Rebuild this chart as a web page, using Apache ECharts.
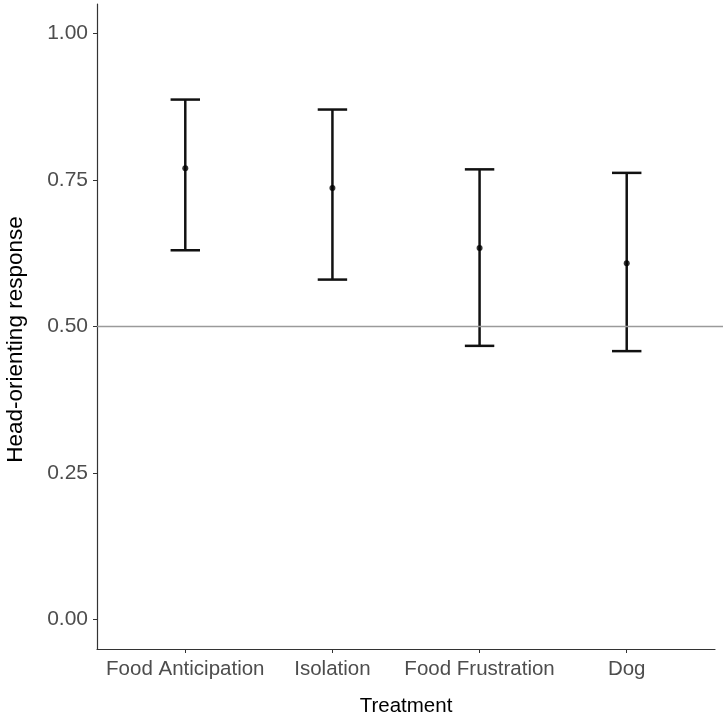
<!DOCTYPE html>
<html>
<head>
<meta charset="utf-8">
<script src="https://cdn.jsdelivr.net/npm/echarts@6/dist/echarts.min.js"></script>
<style>
html,body{margin:0;padding:0;background:#fff;}
#chart{width:728px;height:718px;}
</style>
</head>
<body>
<div id="chart"></div>
<script>
var categories = ['Food Anticipation', 'Isolation', 'Food Frustration', 'Dog'];
var meanValues = [0.770, 0.736, 0.634, 0.608];
var lowerValues = [0.630, 0.580, 0.467, 0.458];
var upperValues = [0.887, 0.870, 0.768, 0.762];
var yTicks = [0, 0.25, 0.5, 0.75, 1];
var refLine = 0.5;

var positions = categories.map(function (c, i) { return i + 1; });
var barData = positions.map(function (p, i) { return [p, lowerValues[i], upperValues[i]]; });
var pointData = positions.map(function (p, i) { return [p, meanValues[i]]; });

var chart = echarts.init(document.getElementById('chart'), null, {renderer: 'canvas'});
var font = 'Liberation Sans, Arial, sans-serif';

chart.setOption({
  animation: false,
  backgroundColor: '#fff',
  grid: [
    {left: 97, right: 13, top: 4, bottom: 69, containLabel: false, outerBoundsMode: 'none'},
    {left: 97, right: 5, top: 4, bottom: 69, containLabel: false, outerBoundsMode: 'none'}
  ],
  xAxis: [{
    type: 'value', gridIndex: 0, min: 0.4, max: 4.6,
    splitLine: {show: false},
    axisLine: {show: true, onZero: false, lineStyle: {color: '#333', width: 1.2}},
    axisTick: {show: true, length: 4, lineStyle: {color: '#333'}, customValues: positions},
    axisLabel: {
      customValues: positions, color: '#4d4d4d', fontSize: 20.5, fontFamily: font, margin: 10,
      formatter: function (v) { return categories[Math.round(v) - 1] || ''; }
    },
    name: 'Treatment', nameLocation: 'middle', nameGap: 47,
    nameTextStyle: {color: '#000', fontSize: 20.5, fontFamily: font}
  }, {
    type: 'value', gridIndex: 1, min: 0, max: 1, show: false
  }],
  yAxis: [{
    type: 'value', gridIndex: 0, min: -0.05, max: 1.05,
    splitLine: {show: false},
    axisLine: {show: true, onZero: false, lineStyle: {color: '#333', width: 1.2}},
    axisTick: {show: true, length: 4, lineStyle: {color: '#333'}, customValues: yTicks},
    axisLabel: {
      customValues: yTicks, color: '#4d4d4d', fontSize: 21, fontFamily: font, margin: 9,
      formatter: function (v) { return v.toFixed(2); }
    },
    name: 'Head-orienting response', nameLocation: 'middle', nameGap: 70,
    nameTextStyle: {color: '#000', fontSize: 22.5, fontFamily: font, padding: [0, 26, 0, 0]}
  }, {
    type: 'value', gridIndex: 1, min: -0.05, max: 1.05, show: false
  }],
  series: [{
    type: 'line', xAxisIndex: 1, yAxisIndex: 1,
    data: [[0, refLine], [1, refLine]],
    symbol: 'none', silent: true,
    lineStyle: {color: '#9a9a9a', width: 1.5}
  }, {
    type: 'custom', xAxisIndex: 0, yAxisIndex: 0,
    data: barData,
    renderItem: function (params, api) {
      var x = api.value(0), lo = api.value(1), hi = api.value(2);
      var pLo = api.coord([x, lo]), pHi = api.coord([x, hi]);
      var l = api.coord([x - 0.1, lo])[0], r = api.coord([x + 0.1, lo])[0];
      var st = {stroke: '#111', lineWidth: 2.5};
      return {type: 'group', children: [
        {type: 'line', shape: {x1: pLo[0], y1: pLo[1], x2: pHi[0], y2: pHi[1]}, style: st},
        {type: 'line', shape: {x1: l, y1: pHi[1], x2: r, y2: pHi[1]}, style: st},
        {type: 'line', shape: {x1: l, y1: pLo[1], x2: r, y2: pLo[1]}, style: st}
      ]};
    }
  }, {
    type: 'scatter', xAxisIndex: 0, yAxisIndex: 0,
    data: pointData, symbol: 'circle', symbolSize: 6,
    itemStyle: {color: '#000'}
  }]
});
</script>
</body>
</html>
